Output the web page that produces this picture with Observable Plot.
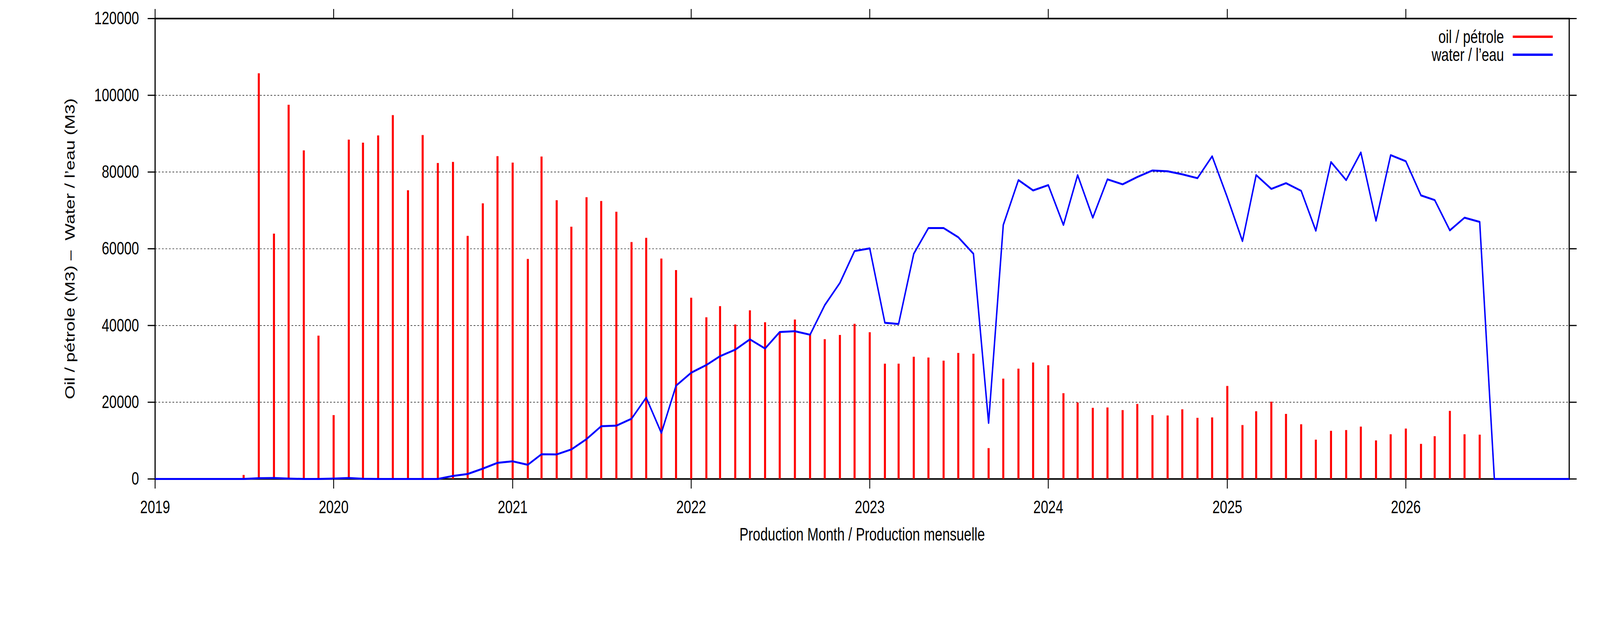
<!DOCTYPE html>
<html>
<head>
<meta charset="utf-8">
<script src="https://cdn.jsdelivr.net/npm/d3@7"></script>
<script src="https://cdn.jsdelivr.net/npm/@observablehq/plot@0.6"></script>
<style>
  html, body { margin: 0; padding: 0; background: #fff; overflow: hidden; }
  #chart { position: relative; }
  #chart svg { display: block; }
</style>
</head>
<body>
<div id="chart"></div>
<script>
// ---- data (monthly, Jan 2019 .. Dec 2026) ----
const years = [2019, 2020, 2021, 2022, 2023, 2024, 2025, 2026];

const oil2019 = [null, null, null, null, null, null, 1000, 105700, 63900, 97500, 85600, 37300];
const oil2020 = [16600, 88400, 87600, 89500, 94800, 75200, 89600, 82300, 82600, 63300, 71800, 84100];
const oil2021 = [82400, 57300, 84000, 72600, 65700, 73400, 72400, 69600, 61700, 62800, 57400, 54400];
const oil2022 = [47200, 42100, 45000, 40200, 43900, 40800, 38100, 41500, 37800, 36400, 37500, 40400];
const oil2023 = [38200, 30000, 30000, 31800, 31600, 30800, 32800, 32600, 8000, 26100, 28700, 30300];
const oil2024 = [29600, 22300, 19900, 18500, 18600, 17900, 19500, 16600, 16500, 18100, 15900, 16000];
const oil2025 = [24200, 14000, 17600, 20100, 16900, 14200, 10200, 12500, 12700, 13600, 10000, 11600];
const oil2026 = [13100, 9100, 11100, 17700, 11600, 11500, null, null, null, null, null, null];

const water2019 = [0, 0, 0, 0, 0, 0, 0, 200, 250, 100, 0, 0];
const water2020 = [100, 250, 50, 0, 0, 0, 0, 0, 800, 1300, 2700, 4200];
const water2021 = [4600, 3700, 6450, 6400, 7700, 10400, 13750, 13900, 15700, 21200, 12000, 24300];
const water2022 = [27700, 29700, 32000, 33700, 36400, 34000, 38300, 38500, 37600, 45300, 51100, 59400];
const water2023 = [60100, 40700, 40400, 58700, 65400, 65400, 63000, 58700, 14600, 66200, 77900, 75200];
const water2024 = [76600, 66200, 79200, 68100, 78100, 76800, 78700, 80400, 80200, 79400, 78400, 84100];
const water2025 = [73400, 62000, 79200, 75600, 77100, 75100, 64700, 82600, 77900, 85100, 67300, 84400];
const water2026 = [82800, 73900, 72700, 64800, 68100, 67000, 0, 0, 0, 0, 0, 0];

const yTicks = [0, 20000, 40000, 60000, 80000, 100000, 120000];
const gridValues = [20000, 40000, 60000, 80000, 100000];
const xTickYears = [2019, 2020, 2021, 2022, 2023, 2024, 2025, 2026];

const xLabel = "Production Month / Production mensuelle";
const yLabel = "Oil / pétrole (M3) \u2013\u00A0 Water / l\u2019eau (M3)";
const legendItems = [
  {label: "oil / pétrole", color: "#ff0000"},
  {label: "water / l\u2019eau", color: "#0000ff"}
];

// ---- build tables ----
const oilAll = [oil2019, oil2020, oil2021, oil2022, oil2023, oil2024, oil2025, oil2026].flat();
const waterAll = [water2019, water2020, water2021, water2022, water2023, water2024, water2025, water2026].flat();
const months = [];
years.forEach(y => { for (let m = 0; m < 12; m++) months.push(new Date(Date.UTC(y, m, 1))); });
const oilData = months.map((d, i) => ({date: d, oil: oilAll[i]})).filter(d => d.oil != null);
const waterData = months.map((d, i) => ({date: d, water: waterAll[i]})).filter(d => d.water != null);
const xTicks = xTickYears.map(y => new Date(Date.UTC(y, 0, 1)));

// design size = reference size
const W = 5483, H = 1594;
const mL = 531, mR = 106, mT = 47, mB = 369;
const FONT = "Liberation Sans, Arial, Helvetica, sans-serif";

const plot = Plot.plot({
  width: W,
  height: H,
  marginLeft: mL,
  marginRight: mR,
  marginTop: mT,
  marginBottom: mB,
  style: {fontFamily: FONT, fontSize: "46px", background: "#fff", color: "#000"},
  x: {type: "utc", domain: [new Date(Date.UTC(2019, 0, 1)), new Date(Date.UTC(2026, 11, 1))]},
  y: {domain: [0, 120000]},
  marks: [
    Plot.ruleY(gridValues, {stroke: "#000", strokeWidth: 1.6, strokeDasharray: "6,6", strokeOpacity: 0.8}),
    Plot.frame({stroke: "#000", strokeWidth: 4}),
    Plot.ruleX(oilData, {x: "date", y1: 0, y2: "oil", stroke: "#ff0000", strokeWidth: 7}),
    Plot.line(waterData, {x: "date", y: "water", stroke: "#0000ff", strokeWidth: 5}),
    Plot.axisX({
      anchor: "bottom", ticks: xTicks, tickFormat: d3.utcFormat("%Y"), tickSize: 25, tickPadding: 30,
      strokeWidth: 3, fontSize: 46, label: xLabel, labelAnchor: "center", labelOffset: 157, labelArrow: "none"
    }),
    Plot.axisX({anchor: "top", ticks: xTicks, tickFormat: () => "", tickSize: 25, strokeWidth: 3, label: null}),
    Plot.axisY({
      anchor: "left", ticks: yTicks, tickFormat: d3.format("d"), tickSize: 25, tickPadding: 30,
      strokeWidth: 3, fontSize: 46, label: yLabel, labelAnchor: "center", labelOffset: 309, labelArrow: "none"
    }),
    Plot.axisY({anchor: "right", ticks: yTicks, tickFormat: () => "", tickSize: 25, strokeWidth: 3, label: null})
  ]
});

// ---- legend (top-right, inside the frame) ----
const svg = d3.select(plot);
const xRight = W - mR;
const g = svg.append("g").attr("font-family", FONT).attr("font-size", 46);
legendItems.forEach((it, i) => {
  const y = 94 + i * 46;
  g.append("text").attr("x", xRight - 223).attr("y", y).attr("dy", "0.35em")
    .attr("text-anchor", "end").attr("fill", "#000").text(it.label);
  g.append("line").attr("x1", xRight - 193).attr("x2", xRight - 56).attr("y1", y).attr("y2", y)
    .attr("stroke", it.color).attr("stroke-width", 6);
});

// ---- fit the design to the actual window (the window may be narrower than the design) ----
const vw = window.innerWidth || W, vh = window.innerHeight || H;
plot.setAttribute("viewBox", `0 0 ${W} ${H}`);
plot.setAttribute("preserveAspectRatio", "none");
plot.setAttribute("width", vw);
plot.setAttribute("height", vh);
plot.style.width = vw + "px";
plot.style.height = vh + "px";
plot.style.maxWidth = "none";

document.getElementById("chart").appendChild(plot);
</script>
</body>
</html>
